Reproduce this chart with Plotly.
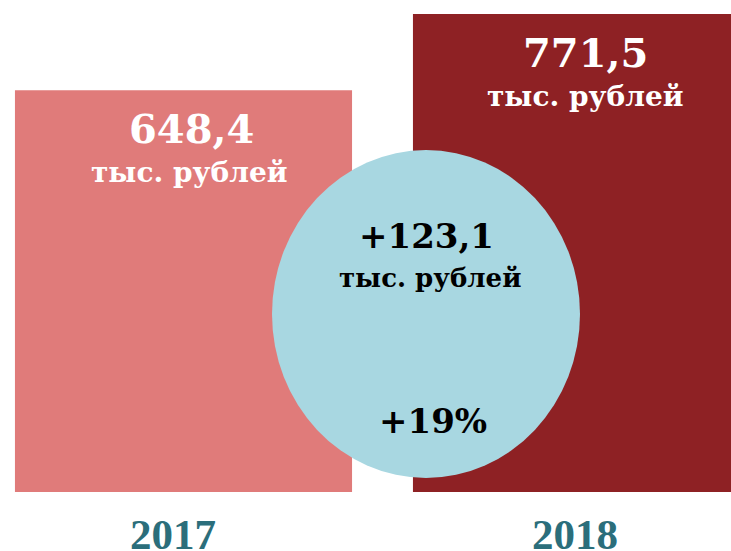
import plotly.graph_objects as go

years = ["2017", "2018"]
values = [648.4, 771.5]
unit = "тыс. рублей"

bar_colors = ["#E07B7A", "#8E2124"]
ellipse_color = "#A8D7E1"
year_color = "#2B6E7B"

def fmt(v):
    return f"{v:.1f}".replace(".", ",")

diff = values[1] - values[0]
pct = round(diff / values[0] * 100)

W, H = 731, 551
ML, MR, MT, MB = 0, 0, 14, 551 - 492

fig = go.Figure()
fig.add_trace(go.Bar(
    x=years, y=values,
    marker=dict(color=bar_colors, line=dict(width=0)),
    width=0.847, hoverinfo="skip",
))

VAL_FONT = "DejaVu Serif"
shifts = [(8, 5), (4, 3)]
year_shift = [-11, -7]
annotations = []
for i, (yr, v) in enumerate(zip(years, values)):
    sx1, sx2 = shifts[i]
    annotations.append(dict(
        x=i, y=v, xref="x", yref="y", text=f"<b>{fmt(v)}</b>", showarrow=False,
        yanchor="middle", yshift=-38, xshift=sx1,
        font=dict(family=VAL_FONT, size=40, color="white"),
    ))
    annotations.append(dict(
        x=i, y=v, xref="x", yref="y", text=f"<b>{unit}</b>", showarrow=False,
        yanchor="middle", yshift=-82, xshift=sx2,
        font=dict(family=VAL_FONT, size=28, color="white"),
    ))
    annotations.append(dict(
        x=i, y=0, xref="x", yref="y", text=f"<b>{yr}</b>", showarrow=False,
        yanchor="middle", yshift=-42, xshift=year_shift[i],
        font=dict(family="Liberation Serif", size=43, color=year_color),
    ))

def px_x(p):
    return (p - ML) / (W - ML - MR)

def px_y(p):
    return (492 - p) / (H - MT - MB)

annotations += [
    dict(x=px_x(426), y=px_y(236), xref="paper", yref="paper", showarrow=False,
         text=f"<b>+{fmt(diff)}</b>", yanchor="middle",
         font=dict(family=VAL_FONT, size=34, color="black")),
    dict(x=px_x(430), y=px_y(278), xref="paper", yref="paper", showarrow=False,
         text=f"<b>{unit}</b>", yanchor="middle",
         font=dict(family=VAL_FONT, size=26, color="black")),
    dict(x=px_x(433), y=px_y(421), xref="paper", yref="paper", showarrow=False,
         text=f"<b>+{pct}%</b>", yanchor="middle",
         font=dict(family=VAL_FONT, size=34, color="black")),
]

fig.add_shape(
    type="circle", xref="paper", yref="paper",
    x0=px_x(272), x1=px_x(580), y0=px_y(478), y1=px_y(150),
    fillcolor=ellipse_color, line=dict(width=0), layer="above",
)

# x: category index; bar 1 left edge at px 15, spacing 398 px
x_lo = -183.5 / 398
x_hi = x_lo + W / 398

fig.update_layout(
    width=W, height=H,
    margin=dict(l=ML, r=MR, t=MT, b=MB, pad=0),
    paper_bgcolor="white", plot_bgcolor="white",
    showlegend=False,
    xaxis=dict(type="category", range=[x_lo, x_hi], showticklabels=False, showgrid=False,
               zeroline=False, showline=False, fixedrange=True),
    yaxis=dict(range=[0, 771.5], showticklabels=False, showgrid=False,
               zeroline=False, showline=False, fixedrange=True),
    annotations=annotations,
)

fig.write_html(
    "out.html",
    config={"displayModeBar": False},
    post_script="document.body.style.margin='0';document.body.style.overflow='hidden';",
)
